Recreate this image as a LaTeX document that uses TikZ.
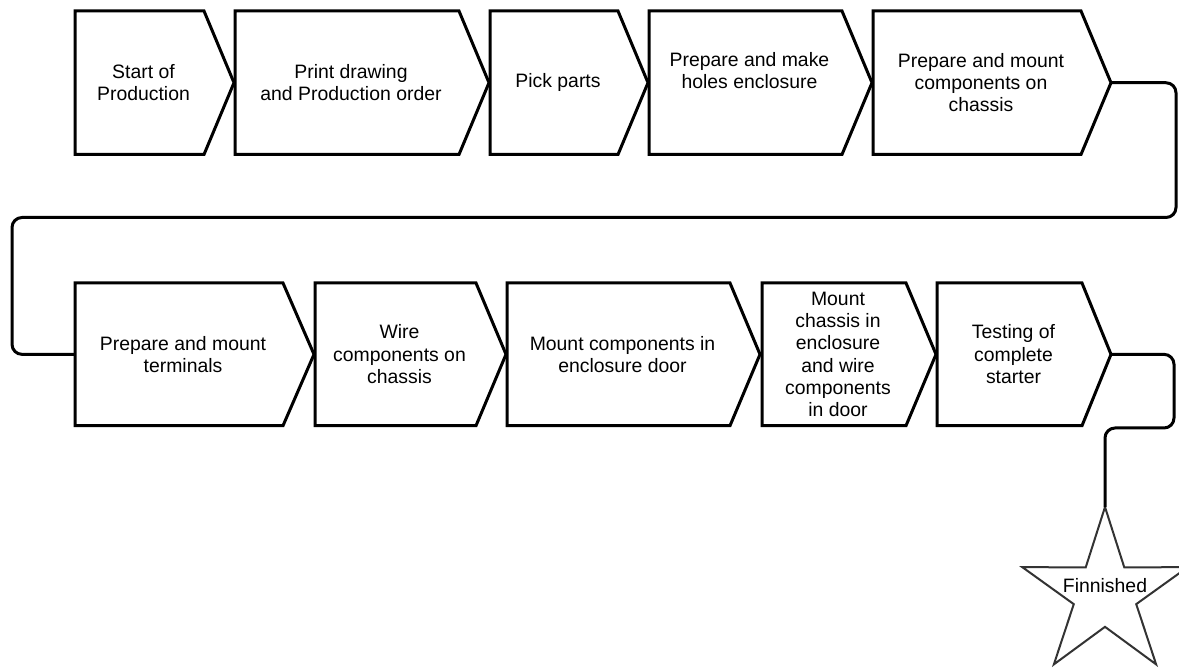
\documentclass[tikz,border=0pt]{standalone}
\usepackage{fontspec}
\setmainfont{Liberation Sans}
\usetikzlibrary{shapes.geometric,fit}

\tikzset{
  stepbody/.style={draw=none, inner sep=0pt, outer sep=0pt},
  chevline/.style={draw=black, line width=3pt, fill=white},
  steplabel/.style={align=center, inner sep=0pt, text=black,
    font=\fontsize{19.4pt}{22.3pt}\selectfont},
  flow/.style={draw=black, line width=3pt, rounded corners=10pt},
  goalstar/.style={star, star points=5, star point ratio=2.65,
    minimum size=174pt, inner sep=0pt, outer sep=0pt,
    draw=black!80, line width=2pt},
}

% #1 label options, #2 name, #3 left x, #4 body end x, #5 tip x,
% #6 top y, #7 bottom y, #8 text
\newcommand\chevronstep[8][]{%
  \coordinate (#2-nw) at (#3,#6);
  \coordinate (#2-se) at (#4,#7);
  \node[stepbody, fit=(#2-nw)(#2-se)] (#2) {};
  \coordinate (#2-tip) at (#5,{(#6+#7)/2});
  \draw[chevline] (#2.north west) -- (#2.north east) -- (#2-tip)
    -- (#2.south east) -- (#2.south west) -- cycle;
  \node[steplabel,#1] (#2-text) at ([xshift=4pt]#2.center) {#8};
}

\begin{document}
\begin{tikzpicture}[x=1pt,y=-1pt]
\fill[white] (0,0) rectangle (1179,668);
\useasboundingbox (0,0) rectangle (1179,668);

% first row
\chevronstep{s1}{75}{204}{234}{11}{154.5}{Start of\\Production}
\chevronstep{s2}{235}{459}{489}{11}{154.5}{Print drawing\\and Production order}
\chevronstep{s3}{490}{618}{648}{11}{154.5}{Pick parts}
\chevronstep[yshift=12pt]{s4}{649}{842}{872}{11}{154.5}{Prepare and make\\holes enclosure}
\chevronstep{s5}{873}{1081}{1111}{11}{154.5}{Prepare and mount\\components on\\chassis}

% second row
\chevronstep{s6}{75}{283}{314}{283}{425.7}{Prepare and mount\\terminals}
\chevronstep{s7}{315}{476}{506}{283}{425.7}{Wire\\components on\\chassis}
\chevronstep{s8}{507}{730}{760}{283}{425.7}{Mount components in\\enclosure door}
\chevronstep{s9}{762}{906}{936}{283}{425.7}{Mount\\chassis in\\enclosure\\and wire\\components\\in door}
\chevronstep{s10}{937}{1082}{1111}{283}{425.7}{Testing of\\complete\\starter}

% end point
\node[goalstar] (finish) at (1105,594) {};
\node[steplabel] (finish-text) at ([yshift=8pt]finish.center) {Finnished};

% connectors
\coordinate (bendR) at (1176,217.5);
\coordinate (bendL) at (12,217.5);
\draw[flow] (s5-tip) -| (bendR) -- (bendL) |- (s6.west);

\coordinate (bendF) at (1174,428);
\draw[flow] (s10-tip) -| (bendF) -| (finish.north);
\end{tikzpicture}
\end{document}
